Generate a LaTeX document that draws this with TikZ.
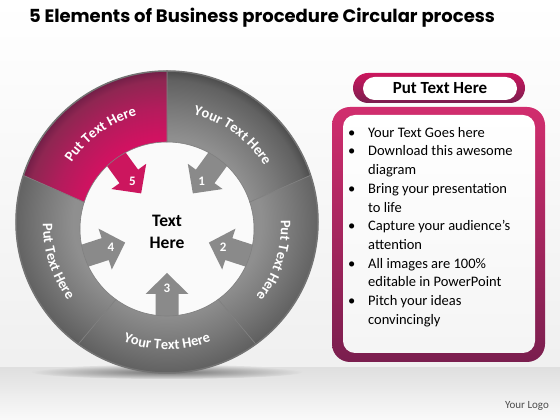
\documentclass[tikz,border=0pt]{standalone}
\usepackage{fontspec}
\setmainfont{Carlito}
\newfontfamily\titlefont{Poppins}
\usetikzlibrary{calc,decorations.text}

\definecolor{pinkmain}{RGB}{204,22,94}
\definecolor{pinkdark}{RGB}{122,30,78}
\definecolor{arrowgray}{RGB}{138,138,138}
\pgfdeclareradialshading{ringgray}{\pgfpoint{0bp}{0bp}}{rgb(0bp)=(.56,.56,.56); rgb(14bp)=(.56,.56,.56); rgb(19bp)=(.47,.47,.47); rgb(23.5bp)=(.38,.38,.38); rgb(25bp)=(.3,.3,.3); rgb(50bp)=(.3,.3,.3)}
\pgfdeclareradialshading{ringpink}{\pgfpoint{0bp}{0bp}}{rgb(0bp)=(.82,.07,.38); rgb(14bp)=(.82,.07,.38); rgb(19bp)=(.7,.11,.36); rgb(23.5bp)=(.56,.15,.32); rgb(25bp)=(.45,.12,.28); rgb(50bp)=(.45,.12,.28)}

\begin{document}
\begin{tikzpicture}[x=1pt, y=1pt,
        segtext/.style={decorate, decoration={text along path, text align=center, text color=white,
            text={|\bfseries\fontsize{14.5}{16}\selectfont|#1}}},
        number/.style={text=white, font=\bfseries\fontsize{13}{15}\selectfont},
        edge/.style={draw=black!50, line width=0.6pt}]
        \useasboundingbox (0,0) rectangle (560,420);

        % Background
        \shade[top color=white, bottom color=gray!12] (0,52) rectangle (560,420);
        \shade[top color=gray!25, bottom color=gray!4] (0,0) rectangle (560,52);
        \shade[inner color=black!55, outer color=gray!25] (167,48) ellipse (135 and 7);

        % Centres
        \coordinate (Co) at (167,198);
        \coordinate (Ci) at (167,191);
        \coordinate (Cm) at (167,194.5);
        \fill[gray!4] (Ci) circle[radius=88];

        % Arrows
        \fill[arrowgray, shift={(Ci)}, rotate=54] (44,0) -- (65,21.5) -- (65,11.5) -- (100,11.5) -- (100,-11.5) -- (65,-11.5) -- (65,-21.5) -- cycle;
        \fill[arrowgray, shift={(Ci)}, rotate=-18] (44,0) -- (65,21.5) -- (65,11.5) -- (100,11.5) -- (100,-11.5) -- (65,-11.5) -- (65,-21.5) -- cycle;
        \fill[arrowgray, shift={(Ci)}, rotate=-90] (44,0) -- (65,21.5) -- (65,11.5) -- (100,11.5) -- (100,-11.5) -- (65,-11.5) -- (65,-21.5) -- cycle;
        \fill[arrowgray, shift={(Ci)}, rotate=198] (44,0) -- (65,21.5) -- (65,11.5) -- (100,11.5) -- (100,-11.5) -- (65,-11.5) -- (65,-21.5) -- cycle;
        \fill[pinkmain, shift={(Ci)}, rotate=126] (44,0) -- (65,21.5) -- (65,11.5) -- (100,11.5) -- (100,-11.5) -- (65,-11.5) -- (65,-21.5) -- cycle;

        % Ring
        \path[edge, path picture={\shade[shading=ringgray] (Co) circle[radius=151];}]
            ($(Co)+(18:151)$) arc[start angle=18, end angle=90, radius=151] -- ($(Ci)+(90:87)$) arc[start angle=90, end angle=18, radius=87] -- cycle;
        \path[edge, path picture={\shade[shading=ringgray] (Co) circle[radius=151];}]
            ($(Co)+(-54:151)$) arc[start angle=-54, end angle=18, radius=151] -- ($(Ci)+(18:87)$) arc[start angle=18, end angle=-54, radius=87] -- cycle;
        \path[edge, path picture={\shade[shading=ringgray] (Co) circle[radius=151];}]
            ($(Co)+(-126:151)$) arc[start angle=-126, end angle=-54, radius=151] -- ($(Ci)+(-54:87)$) arc[start angle=-54, end angle=-126, radius=87] -- cycle;
        \path[edge, path picture={\shade[shading=ringgray] (Co) circle[radius=151];}]
            ($(Co)+(162:151)$) arc[start angle=162, end angle=234, radius=151] -- ($(Ci)+(234:87)$) arc[start angle=234, end angle=162, radius=87] -- cycle;
        \path[edge, path picture={\shade[shading=ringpink] (Co) circle[radius=151];}]
            ($(Co)+(90:151)$) arc[start angle=90, end angle=162, radius=151] -- ($(Ci)+(162:87)$) arc[start angle=162, end angle=90, radius=87] -- cycle;
        \draw[black!55, line width=1.5pt] (Co) circle[radius=151];

        % Ring labels
        \path[segtext={Your Text Here}] ($(Cm)+(90:114)$) arc[start angle=90, end angle=18, radius=114];
        \path[segtext={Put Text Here}] ($(Cm)+(18:114)$) arc[start angle=18, end angle=-54, radius=114];
        \path[segtext={Your Text Here}] ($(Cm)+(-126:124)$) arc[start angle=-126, end angle=-54, radius=124];
        \path[segtext={Put Text Here}] ($(Cm)+(162:124)$) arc[start angle=162, end angle=234, radius=124];
        \path[segtext={Put Text Here}] ($(Cm)+(162:114)$) arc[start angle=162, end angle=90, radius=114];

        % Nodes
        \node (n1) at ($(Ci)+(54:59)$) [number] {1};
        \node (n2) at ($(Ci)+(-18:59)$) [number] {2};
        \node (n3) at ($(Ci)+(-90:59)$) [number] {3};
        \node (n4) at ($(Ci)+(198:59)$) [number] {4};
        \node (n5) at ($(Ci)+(126:59)$) [number] {5};
        \node (hub) at (167,188) [align=center, font=\bfseries\fontsize{17.5}{22}\selectfont] {Text\\Here};

        \node (title) at (262,402) [font=\titlefont\bfseries\fontsize{18}{20}\selectfont] {5 Elements of Business procedure Circular process};

        % Panel
        \node (frame) at (438.5,185.5) [minimum width=213pt, minimum height=255pt, rounded corners=18pt, top color=pinkmain!90!white, bottom color=pinkdark] {};
        \node (body) at (439,186) [minimum width=192pt, minimum height=238pt, rounded corners=12pt, top color=white, bottom color=gray!8] {};
        \node (head) at (439,332) [minimum width=172pt, minimum height=30pt, rounded corners=15pt, top color=pinkmain, bottom color=pinkdark] {};
        \node (caption) at (440,331.5) [minimum width=154pt, minimum height=23pt, inner sep=0pt, rounded corners=11.5pt, fill=white, font=\bfseries\fontsize{17}{20}\selectfont] {Put Text Here};
        \node (items) at (348,296) [anchor=north west, inner sep=0pt, font=\fontsize{14.5}{18.7}\selectfont] {%
            \begin{tabular}{@{}p{20pt}@{}l@{}}
            \textbullet & Your Text Goes here\\
            \textbullet & Download this awesome\\
                        & diagram\\
            \textbullet & Bring your presentation\\
                        & to life\\
            \textbullet & Capture your audience’s\\
                        & attention\\
            \textbullet & All images are 100\%\\
                        & editable in PowerPoint\\
            \textbullet & Pitch your ideas\\
                        & convincingly
            \end{tabular}};

        \node (logo) at (527,14) [font=\fontsize{11}{13}\selectfont, text=black!70] {Your Logo};
    \end{tikzpicture}
\end{document}
